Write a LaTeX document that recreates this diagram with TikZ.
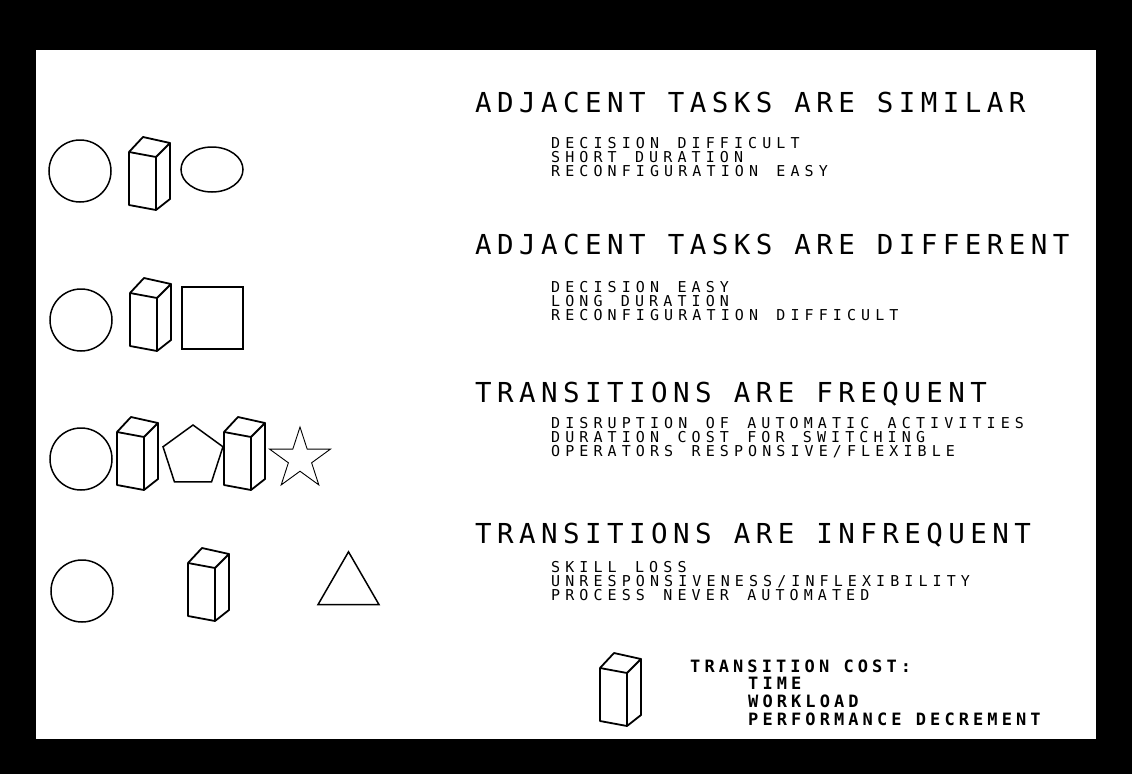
\documentclass[tikz,border=0pt]{standalone}
\usepackage{fontspec}
\newfontfamily\headfont{DejaVu Sans Mono}[LetterSpace=19.8]
\newfontfamily\notefont{DejaVu Sans Mono}[LetterSpace=34,WordSpace=1.3]
\newfontfamily\keyfont{DejaVu Sans Mono}[LetterSpace=24]
\usetikzlibrary{shapes.geometric}

\begin{document}
\begin{tikzpicture}[x=1pt,y=-1pt,
 shp/.style={draw,line width=1.5pt,inner sep=0pt,outer sep=0pt},
 head/.style={anchor=base west,inner sep=0pt,font=\headfont\fontsize{27.5}{30}\selectfont},
 note/.style={anchor=base west,inner sep=0pt,align=left,font=\notefont\fontsize{15}{13.9}\selectfont},
 key/.style={anchor=base west,inner sep=0pt,align=left,font=\keyfont\bfseries\fontsize{17}{17.6}\selectfont},
 tbox/.pic={\draw[line width=1.8pt,line join=round]
   (0,0) -- (14,-15) -- (41,-9) -- (27,5) -- cycle
   (0,0) -- (0,53) -- (27,58) -- (41,47) -- (41,-9)
   (27,5) -- (27,58);}]
\useasboundingbox (0,0) rectangle (1132,774);
\fill[black] (0,0) rectangle (1132,774);
\fill[white] (36,50) rectangle (1096,739);

\node[shp,circle,minimum size=62pt] (c1) at (80,171) {};
\pic (b1) at (129,152) {tbox};
\node[shp,ellipse,minimum width=62pt,minimum height=45pt] (e1) at (212,169.5) {};

\node[shp,circle,minimum size=62pt] (c2) at (81,320) {};
\pic (b2) at (130,293) {tbox};
\node[shp,rectangle,minimum width=61pt,minimum height=62pt] (q2) at (212.5,318) {};

\node[shp,circle,minimum size=62pt] (c3) at (81,459) {};
\pic (b3) at (117,432) {tbox};
\node[shp,regular polygon,regular polygon sides=5,minimum size=63pt] (p3) at (193,456.5) {};
\pic (b4) at (224,432) {tbox};
\node[shp,line width=0.9pt,star,star points=5,star point ratio=2.618,minimum size=64pt] (r3) at (300,459) {};

\node[shp,circle,minimum size=62pt] (c4) at (82,591) {};
\pic (b5) at (188,563) {tbox};
\node[shp,regular polygon,regular polygon sides=3,minimum size=70.4pt] (t4) at (348.5,587) {};

\node[head] (h1) at (475,112) {ADJACENT TASKS ARE SIMILAR};
\node[note] (n1) at (551,176) {DECISION DIFFICULT\\SHORT DURATION\\RECONFIGURATION EASY};
\node[head] (h2) at (475,254) {ADJACENT TASKS ARE DIFFERENT};
\node[note] (n2) at (551,320) {DECISION EASY\\LONG DURATION\\RECONFIGURATION DIFFICULT};
\node[head] (h3) at (475,402) {TRANSITIONS ARE FREQUENT};
\node[note] (n3) at (551,456) {DISRUPTION OF AUTOMATIC ACTIVITIES\\DURATION COST FOR SWITCHING\\OPERATORS RESPONSIVE/FLEXIBLE};
\node[head] (h4) at (475,543) {TRANSITIONS ARE INFREQUENT};
\node[note] (n4) at (551,600) {SKILL LOSS\\UNRESPONSIVENESS/INFLEXIBILITY\\PROCESS NEVER AUTOMATED};

\pic (bk) at (600,668) {tbox};
\node[key] (k0) at (690,672) {TRANSITION COST:};
\node[key] (k1) at (748,725) {TIME\\WORKLOAD\\PERFORMANCE DECREMENT};
\end{tikzpicture}
\end{document}
